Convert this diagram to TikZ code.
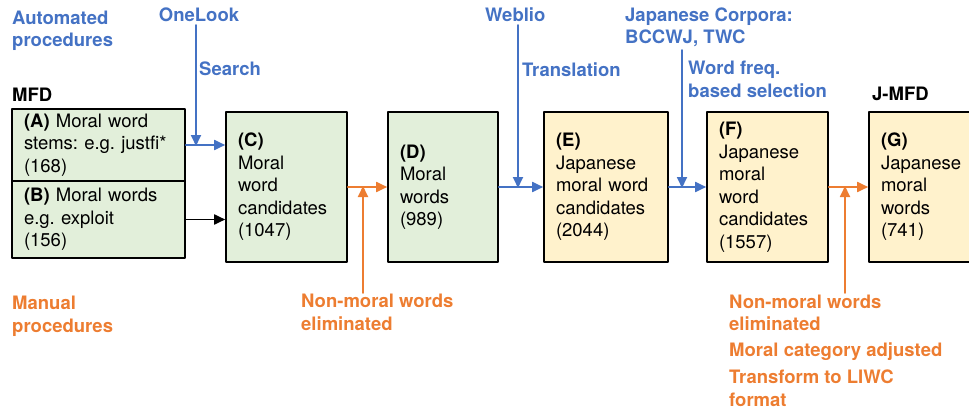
\documentclass[tikz,border=0pt]{standalone}
\usepackage{fontspec}
\setmainfont{TeX Gyre Heros}
\usetikzlibrary{arrows.meta}
\definecolor{autoblue}{RGB}{68,114,196}
\definecolor{manorange}{RGB}{237,125,49}
\definecolor{mfdgreen}{RGB}{226,239,218}
\definecolor{jmfdyellow}{RGB}{255,242,204}
\frenchspacing
\begin{document}
\begin{tikzpicture}[line cap=round,line join=round,>={Triangle[length=11pt,width=10pt]},x=1pt,y=-1pt,
	box/.style={draw=black,line width=1.6pt,align=left,inner xsep=12pt,inner ysep=0pt,font=\fontsize{18.5}{22.5}\selectfont},
	greenbox/.style={box,fill=mfdgreen},
	yellowbox/.style={box,fill=jmfdyellow},
	lbl/.style={anchor=base west,align=left,inner sep=0pt,font=\bfseries\fontsize{18.5}{22.5}\selectfont},
	autolbl/.style={lbl,text=autoblue},
	manlbl/.style={lbl,text=manorange},
	autoarrow/.style={->,line width=1.8pt,draw=autoblue},
	manarrow/.style={->,line width=1.8pt,draw=manorange}]
		\useasboundingbox (0,0) rectangle (969,412);
		\node[autolbl] (automated) at (12,47) {Automated\\procedures};
		\node[autolbl,anchor=base] (onelook) at (199,22) {OneLook};
		\node[autolbl] (search) at (199,76) {Search};
		\node[lbl] (mfd) at (12,101) {MFD};
		\node[autolbl] (weblio) at (485,22) {Weblio};
		\node[autolbl] (translation) at (522,77) {Translation};
		\node[autolbl] (corpora) at (625,44) {Japanese Corpora:\\BCCWJ, TWC};
		\node[autolbl] (wordfreq) at (688,97) {Word freq.\\based selection};
		\node[lbl] (jmfd) at (872,100) {J-MFD};
		\node[manlbl] (manual) at (12,332) {Manual\\procedures};
		\node[manlbl] (elimC) at (301,330) {Non-moral words\\eliminated};
		\node[manlbl] (elimF) at (729,406) {Non-moral words\\eliminated\\[3pt]Moral category adjusted\\[5pt]Transform to LIWC\\format};
		\node[greenbox,text width=149pt,minimum height=72pt] (A) at (98.5,145) {\textbf{(A)} Moral word\\stems: e.g. justfi*\\(168)};
		\node[greenbox,text width=149pt,minimum height=77pt] (B) at (98.5,219.5) {\textbf{(B)} Moral words\\e.g. exploit\\(156)};
		\node[greenbox,text width=97pt,minimum height=150pt] (C) at (286.5,187) {\textbf{(C)}\\Moral\\word\\candidates\\(1047)};
		\node[greenbox,text width=86pt,minimum height=150pt] (D) at (443,187) {\textbf{(D)}\\Moral\\words\\(989)};
		\node[yellowbox,text width=100pt,minimum height=150pt] (E) at (606,187) {\textbf{(E)}\\Japanese\\moral word\\candidates\\(2044)};
		\node[yellowbox,text width=97pt,minimum height=150pt] (F) at (767.5,187) {\textbf{(F)}\\Japanese\\moral\\word\\candidates\\(1557)};
		\node[yellowbox,text width=88pt,minimum height=150pt] (G) at (925,187) {\textbf{(G)}\\Japanese\\moral\\words\\(741)};
		\coordinate (searchtop) at (196,25);
		\coordinate (webliotop) at (518,25);
		\coordinate (corporatop) at (682,50);
		\coordinate (elimCtop) at (363,293);
		\coordinate (elimFtop) at (845,293);
		\draw[autoarrow] (A.east) -- (A.east -| C.west);
		\draw[->,line width=1.8pt] (B.east) -- (B.east -| C.west);
		\draw[manarrow] (C.east) -- (D.west);
		\draw[autoarrow] (D.east) -- (E.west);
		\draw[autoarrow] (E.east) -- (F.west);
		\draw[manarrow] (F.east) -- (G.west);
		\draw[autoarrow] (searchtop) -- ([yshift=-1pt]searchtop |- A.east);
		\draw[autoarrow] (webliotop) -- ([yshift=-1pt]webliotop |- D.east);
		\draw[autoarrow] (corporatop) -- ([yshift=-1pt]corporatop |- E.east);
		\draw[manarrow] (elimCtop) -- ([yshift=1pt]elimCtop |- C.east);
		\draw[manarrow] (elimFtop) -- ([yshift=1pt]elimFtop |- F.east);
	\end{tikzpicture}
\end{document}
